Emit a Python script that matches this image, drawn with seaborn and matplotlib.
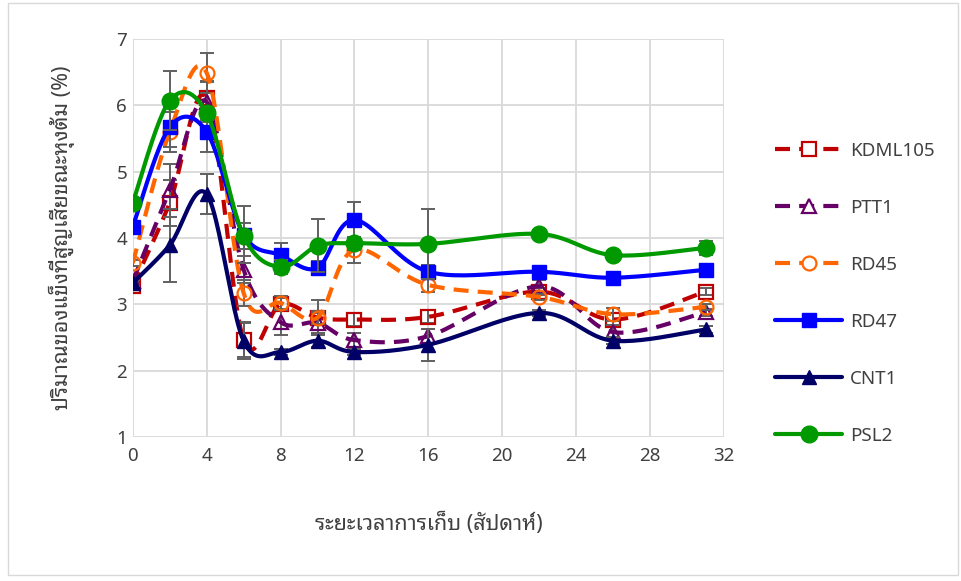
import numpy as np
import pandas as pd
import matplotlib
matplotlib.use("Agg")
import matplotlib.pyplot as plt
from matplotlib.lines import Line2D
from matplotlib import font_manager as fm, ft2font
import seaborn as sns

weeks = [0, 2, 4, 6, 8, 10, 12, 16, 22, 26, 31]
KDML105 = [3.28, 4.53, 6.11, 2.46, 3.00, 2.80, 2.77, 2.81, 3.19, 2.77, 3.19]
PTT1 = [3.35, 4.72, 6.05, 3.52, 2.73, 2.72, 2.46, 2.52, 3.27, 2.58, 2.88]
RD45 = [3.62, 5.60, 6.49, 3.17, 3.02, 2.80, 3.82, 3.29, 3.11, 2.85, 2.96]
RD47 = [4.17, 5.67, 5.60, 4.05, 3.74, 3.55, 4.27, 3.49, 3.49, 3.40, 3.52]
CNT1 = [3.32, 3.89, 4.66, 2.45, 2.28, 2.45, 2.28, 2.39, 2.87, 2.45, 2.62]
PSL2 = [4.53, 6.07, 5.88, 4.03, 3.56, 3.88, 3.92, 3.91, 4.06, 3.74, 3.85]

KDML105_err = [0.05, 0.35, 0.25, 0.25, 0.10, 0.27, 0.10, 0.10, 0.05, 0.10, 0.05]
PTT1_err = [0.05, 0.40, 0.30, 0.20, 0.20, 0.15, 0.10, 0.10, 0.10, 0.10, 0.05]
RD45_err = [0.05, 0.30, 0.30, 0.20, 0.10, 0.10, 0.20, 0.10, 0.05, 0.10, 0.05]
RD47_err = [0.05, 0.30, 0.30, 0.43, 0.18, 0.10, 0.27, 0.10, 0.05, 0.05, 0.05]
CNT1_err = [0.05, 0.55, 0.30, 0.28, 0.05, 0.10, 0.05, 0.24, 0.05, 0.05, 0.05]
PSL2_err = [0.05, 0.45, 0.10, 0.20, 0.10, 0.40, 0.10, 0.53, 0.05, 0.05, 0.10]

series_names = ["KDML105", "PTT1", "RD45", "RD47", "CNT1", "PSL2"]
values = [KDML105, PTT1, RD45, RD47, CNT1, PSL2]
errors = [KDML105_err, PTT1_err, RD45_err, RD47_err, CNT1_err, PSL2_err]

x_label = "ระยะเวลาการเก็บ (สัปดาห์)"
y_label = "ปริมาณของแข็งที่สูญเสียขณะหุงต้ม (%)"

styles = {
    "KDML105": dict(color="#C00000", dashed=True, marker="s", filled=False, ms=10),
    "PTT1": dict(color="#660066", dashed=True, marker="^", filled=False, ms=10),
    "RD45": dict(color="#FF6600", dashed=True, marker="o", filled=False, ms=10),
    "RD47": dict(color="#0000FF", dashed=False, marker="s", filled=True, ms=10),
    "CNT1": dict(color="#000066", dashed=False, marker="^", filled=True, ms=10),
    "PSL2": dict(color="#009900", dashed=False, marker="o", filled=True, ms=12),
}

sns.set_theme(style="white")

# find a font with Thai coverage
thai_fonts = []
for f in fm.fontManager.ttflist:
    try:
        cm = ft2font.FT2Font(f.fname).get_charmap()
        if 0x0E01 in cm and 0x0E40 in cm and f.name not in thai_fonts:
            thai_fonts.append(f.name)
    except Exception:
        pass
thai_pick = []
for pref in ["Noto Sans Thai Looped", "Noto Sans Thai", "Loma", "Tlwg Typo"]:
    if pref in thai_fonts:
        thai_pick = [pref]
        break
if not thai_pick and thai_fonts:
    thai_pick = thai_fonts[:1]

fam = ["Noto Sans"] + thai_pick + ["DejaVu Sans"]
plt.rcParams["font.family"] = fam


def smooth(xs, ys, n=24):
    P = np.column_stack([xs, ys]).astype(float)
    P = np.vstack([P[0], P, P[-1]])
    out = []
    for i in range(1, len(P) - 2):
        p0, p1, p2, p3 = P[i - 1], P[i], P[i + 1], P[i + 2]
        c1 = p1 + (p2 - p0) / 6.0
        c2 = p2 - (p3 - p1) / 6.0
        last = i == len(P) - 3
        t = np.linspace(0, 1, n + (1 if last else 0), endpoint=last)[:, None]
        b = ((1 - t) ** 3) * p1 + 3 * ((1 - t) ** 2) * t * c1 + 3 * (1 - t) * t ** 2 * c2 + t ** 3 * p2
        out.append(b)
    out = np.vstack(out)
    return out[:, 0], out[:, 1]


fig = plt.figure(figsize=(9.62, 5.81), dpi=100)
ax = fig.add_axes([0.138, 0.248, 0.6146, 0.685])

grid_c = "#D9D9D9"
for k, (name, vals, errs) in enumerate(zip(series_names, values, errors)):
    st = styles[name]
    z = 3 + k
    ax.errorbar(weeks, vals, yerr=errs, fmt="none", ecolor="#606060",
                elinewidth=1.4, capsize=5, capthick=1.4, zorder=z)
    sx, sy = smooth(weeks, vals)
    df = pd.DataFrame({"x": sx, "y": sy})
    ls = (0, (3.6, 2.2)) if st["dashed"] else "-"
    sns.lineplot(data=df, x="x", y="y", sort=False, estimator=None, ax=ax,
                 color=st["color"], linewidth=3.0, linestyle=ls, zorder=z + 0.1)
    pdf = pd.DataFrame({"x": weeks, "y": vals})
    ax.plot(pdf["x"], pdf["y"], linestyle="none", marker=st["marker"],
            markersize=st["ms"],
            markerfacecolor=(st["color"] if st["filled"] else "none"),
            markeredgecolor=st["color"], markeredgewidth=(1 if st["filled"] else 1.6),
            zorder=z + 0.2)

ax.set_xlim(0, 32)
ax.set_ylim(1, 7)
ax.set_xticks(np.arange(0, 33, 4))
ax.set_yticks(np.arange(1, 8, 1))
ax.grid(True, color=grid_c, linewidth=1.3)
ax.set_axisbelow(True)
for s in ax.spines.values():
    s.set_visible(False)
ax.tick_params(axis="both", length=0, labelsize=13.5, labelcolor="#404040")
ax.tick_params(axis="y", pad=4)
ax.tick_params(axis="x", pad=7)
ax.set_xlabel(x_label, fontsize=15.5, color="#404040", labelpad=35)
ax.set_ylabel(y_label, fontsize=15.5, color="#404040", labelpad=30)

handles = []
for name in series_names:
    st = styles[name]
    ls = (0, (3.6, 2.2)) if st["dashed"] else "-"
    handles.append(Line2D([], [], color=st["color"], linewidth=3.0, linestyle=ls,
                          marker=st["marker"], markersize=st["ms"],
                          markerfacecolor=(st["color"] if st["filled"] else "white"),
                          markeredgecolor=st["color"],
                          markeredgewidth=(1 if st["filled"] else 1.6)))
leg = fig.legend(handles, series_names, loc="upper left", bbox_to_anchor=(0.788, 0.785),
                 frameon=False, fontsize=13.5, handlelength=3.6, labelspacing=2.08,
                 handletextpad=0.4)
for t in leg.get_texts():
    t.set_color("#404040")

fig.add_artist(plt.Rectangle((0.008, 0.01), 0.988, 0.985, transform=fig.transFigure,
                             fill=False, edgecolor="#D9D9D9", linewidth=1))
fig.savefig("out.png", dpi=100)
